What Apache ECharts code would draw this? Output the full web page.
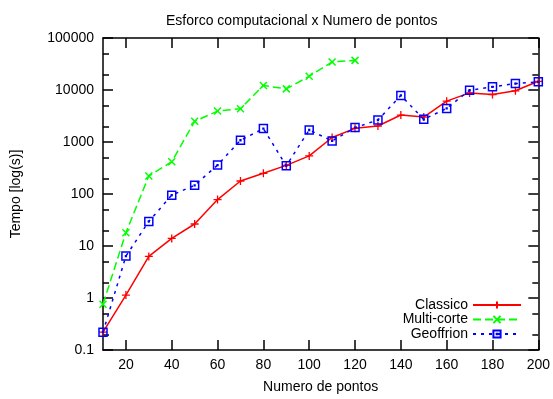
<!DOCTYPE html>
<html>
<head>
<meta charset="utf-8">
<script src="https://cdn.jsdelivr.net/npm/echarts@6/dist/echarts.min.js"></script>
<style>
html,body{margin:0;padding:0;background:#fff;}
#chart{width:553px;height:399px;}
</style>
</head>
<body>
<div id="chart"></div>
<script>
const xValues = [10,20,30,40,50,60,70,80,90,100,110,120,130,140,150,160,170,180,190,200];
const classico = [0.22,1.14,6.3,14,26.5,78,178,250,355,540,1220,1830,2030,3300,3020,6100,8800,8200,9650,14700];
const multicorte = [0.76,18,222,417,2500,3930,4370,12200,10500,18400,34600,37100];
const geoffrion = [0.22,6.4,29.7,95,147,360,1080,1810,349,1700,1050,1890,2650,7850,2730,4430,9900,11500,13300,14350];
const xTicks = [20,40,60,80,100,120,140,160,180,200];
const yMajor = [0.1,1,10,100,1000,10000,100000];
const yMinor = [0.2,0.5,2,5,20,50,200,500,2000,5000,20000,50000];
const seriesNames = ['Classico','Multi-corte','Geoffrion'];
const titleText = 'Esforco computacional x Numero de pontos';
const xName = 'Numero de pontos';
const yName = 'Tempo [log(s)]';

const FONT = 'Liberation Sans, Arial, Helvetica, sans-serif';
const chart = echarts.init(document.getElementById('chart'));

function pairs(ys){ return ys.map((y,i)=>[xValues[i], y]); }
const fmt = v => String(parseFloat(Number(v).toPrecision(6)));

const axisLine = {show:true, lineStyle:{color:'#000', width:1.5}};
const hiddenLine = {show:false};

const option = {
  animation:false,
  backgroundColor:'#fff',
  textStyle:{fontFamily:FONT},
  title:{
    text:titleText, left:161, top:9,
    textStyle:{fontFamily:FONT, fontSize:14, fontWeight:'normal', color:'#000'}
  },
  grid:{left:103, right:13, top:38, bottom:47, containLabel:false},
  legend:{
    orient:'vertical', right:26, top:293, align:'right',
    itemWidth:48, itemHeight:9, itemGap:0.5,
    textStyle:{fontFamily:FONT, fontSize:14, color:'#000', lineHeight:14},
    data:seriesNames
  },
  xAxis:[
    {type:'value', min:10, max:200, position:'bottom',
     axisLine:axisLine,
     axisTick:{show:true, inside:true, length:10, customValues:xTicks, lineStyle:{color:'#000', width:1.5}},
     axisLabel:{show:true, customValues:xTicks, fontSize:14, color:'#000', margin:8, fontFamily:FONT},
     splitLine:{show:false},
     name:xName, nameLocation:'middle', nameGap:30,
     nameTextStyle:{fontSize:14, color:'#000', fontFamily:FONT}},
    {type:'value', min:10, max:200, position:'top',
     axisLine:axisLine,
     axisTick:{show:true, inside:true, length:10, customValues:xTicks, lineStyle:{color:'#000', width:1.5}},
     axisLabel:{show:false}, splitLine:{show:false}}
  ],
  yAxis:[
    {type:'log', logBase:10, min:0.1, max:100000, position:'left',
     axisLine:axisLine,
     axisTick:{show:true, inside:true, length:10, customValues:yMajor, lineStyle:{color:'#000', width:1.5}},
     axisLabel:{show:true, customValues:yMajor, formatter:fmt, fontSize:14, color:'#000', margin:9, fontFamily:FONT},
     splitLine:{show:false},
     name:yName, nameLocation:'middle', nameGap:80, nameRotate:90,
     nameTextStyle:{fontSize:14, color:'#000', fontFamily:FONT}},
    {type:'log', logBase:10, min:0.1, max:100000, position:'right',
     axisLine:axisLine,
     axisTick:{show:true, inside:true, length:10, customValues:yMajor, lineStyle:{color:'#000', width:1.5}},
     axisLabel:{show:false}, splitLine:{show:false}},
    {type:'log', logBase:10, min:0.1, max:100000, position:'left',
     axisLine:hiddenLine,
     axisTick:{show:true, inside:true, length:6, customValues:yMinor, lineStyle:{color:'#000', width:1.5}},
     axisLabel:{show:false}, splitLine:{show:false}},
    {type:'log', logBase:10, min:0.1, max:100000, position:'right',
     axisLine:hiddenLine,
     axisTick:{show:true, inside:true, length:6, customValues:yMinor, lineStyle:{color:'#000', width:1.5}},
     axisLabel:{show:false}, splitLine:{show:false}}
  ],
  series:[
    {name:seriesNames[0], type:'line', data:pairs(classico),
     symbol:'path://M5,0L5,10M0,5L10,5', symbolSize:8,
     itemStyle:{color:'#ff0000', borderColor:'#ff0000', borderWidth:1.3},
     lineStyle:{color:'#ff0000', width:1.5, type:'solid'},
     silent:true, z:4},
    {name:seriesNames[1], type:'line', data:pairs(multicorte),
     symbol:'path://M0,0L10,10M0,10L10,0', symbolSize:7,
     itemStyle:{color:'#00ff00', borderColor:'#00ff00', borderWidth:1.5},
     lineStyle:{color:'#00ff00', width:1.5, type:[8,4]},
     silent:true, z:3},
    {name:seriesNames[2], type:'line', data:pairs(geoffrion),
     symbol:'path://M0,0L10,0L10,10L0,10Z M4.5,4.5L5.5,4.5L5.5,5.5L4.5,5.5Z', symbolSize:8,
     itemStyle:{color:'rgba(0,0,0,0)', borderColor:'#0000ff', borderWidth:1.5},
     lineStyle:{color:'#0000ff', width:1.5, type:[3,5]},
     silent:true, z:5}
  ]
};
chart.setOption(option);
</script>
</body>
</html>
